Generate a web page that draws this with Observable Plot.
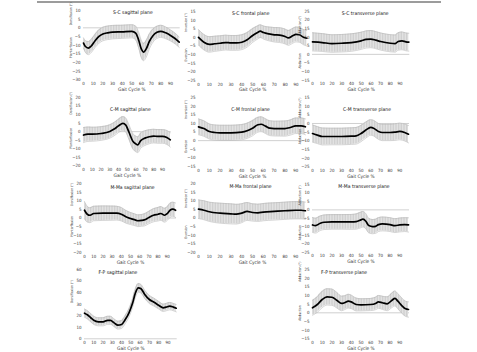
<!DOCTYPE html>
<html><head><meta charset="utf-8">
<script src="https://cdn.jsdelivr.net/npm/d3@7"></script>
<script src="https://cdn.jsdelivr.net/npm/@observablehq/plot@0.6"></script>
<style>
html,body{margin:0;padding:0;background:#fff;}
#fig{position:relative;width:477px;height:352px;overflow:hidden;font-family:"Liberation Sans Narrow","DejaVu Sans Condensed","Liberation Sans",Arial,sans-serif;}
#fig .panel{position:absolute;}
#topRule{position:absolute;left:37px;top:1px;width:404px;height:2px;background:#9c9c9c;}
</style></head><body>
<svg width="0" height="0" style="position:absolute">
  <defs>
    <pattern id="sdHatch" width="1.6" height="4" patternUnits="userSpaceOnUse">
      <rect width="1.6" height="4" fill="#e5e5e5"/>
      <rect width="0.6" height="4" fill="#c6c6c6"/>
    </pattern>
  </defs>
</svg>
<div id="fig"><div id="topRule"></div></div>
<script>
// Mean joint angle (deg) and standard deviation across the gait cycle (%)

// S-C sagittal
const scSagX    = [0, 2, 5, 8, 12, 16, 20, 25, 30, 40, 50, 54, 57, 60, 62, 65, 68, 72, 76, 80, 85, 90, 95, 99];
const scSagMean = [-8.8, -10.8, -11.7, -10.5, -7.5, -5, -3.6, -2.9, -2.5, -2.3, -2.0, -3.0, -7, -12.5, -14, -12, -8, -4.4, -2.6, -2.0, -2.9, -4.4, -6.3, -8.3];
const scSagSd   = [3.0, 3.4, 3.8, 3.8, 3.8, 3.9, 3.9, 3.9, 3.9, 3.8, 3.8, 4.0, 4.5, 5.0, 5.0, 4.8, 4.3, 3.8, 3.5, 3.5, 3.4, 3.2, 3.1, 3.0];

// S-C frontal
const scFrX    = [0, 5, 10, 15, 20, 25, 30, 35, 40, 45, 50, 55, 57, 60, 65, 70, 75, 80, 83, 87, 90, 93, 97, 100];
const scFrMean = [0, -2.8, -4.1, -3.7, -3.4, -3.0, -3.2, -3.2, -2.8, -1.4, 1.1, 3.0, 3.6, 2.8, 2.0, 1.5, 1.3, 0.5, -0.3, 0.9, 1.7, 1.5, 0.1, -0.5];
const scFrSd   = [4.5, 4.5, 4.5, 4.4, 4.3, 4.3, 4.3, 4.3, 4.3, 4.2, 4.0, 3.8, 3.7, 3.8, 4.0, 4.2, 4.3, 4.3, 4.3, 4.3, 4.3, 4.3, 4.4, 4.5];

// S-C transverse
const scTrX    = [0, 10, 20, 30, 40, 50, 55, 60, 65, 70, 80, 85, 88, 92, 96, 99];
const scTrMean = [7.3, 6.9, 6.3, 6.5, 6.9, 7.9, 8.7, 8.9, 8.3, 7.5, 6.5, 6.3, 7.5, 7.9, 7.3, 7.1];
const scTrSd   = [5.3, 5.2, 5.1, 5.1, 5.1, 5.0, 5.0, 5.0, 5.0, 5.0, 5.0, 5.0, 5.1, 5.2, 5.2, 5.2];

// C-M sagittal
const cmSagX    = [0, 5, 10, 20, 30, 35, 40, 45, 48, 52, 56, 60, 62, 65, 70, 75, 80, 85, 90, 95, 99];
const cmSagMean = [-2, -1.5, -1.5, -1.1, 0.1, 1.5, 3.4, 4.8, 4.0, -0.5, -5.4, -7.3, -7.7, -5.4, -3.8, -3.0, -2.6, -2.8, -2.8, -3.4, -4.8];
const cmSagSd   = [4.4, 4.2, 4.1, 4.0, 3.9, 3.9, 3.9, 4.0, 4.1, 4.3, 4.5, 4.6, 4.6, 4.5, 4.3, 4.1, 4.0, 4.0, 4.0, 4.1, 4.2];

// C-M frontal
const cmFrX    = [0, 5, 10, 15, 20, 30, 40, 45, 50, 55, 58, 62, 66, 70, 80, 85, 90, 95, 99];
const cmFrMean = [8, 7, 5.3, 4.7, 4.5, 4.5, 4.9, 5.7, 7.2, 9.2, 9.5, 8.4, 7.2, 7.0, 7.0, 7.6, 8.6, 8.6, 8.0];
const cmFrSd   = [4.6, 4.5, 4.4, 4.4, 4.4, 4.4, 4.4, 4.4, 4.4, 4.3, 4.3, 4.3, 4.3, 4.3, 4.4, 4.4, 4.5, 4.5, 4.6];

// C-M transverse
const cmTrX    = [0, 5, 10, 20, 30, 40, 45, 50, 55, 60, 63, 68, 72, 80, 85, 90, 95, 99];
const cmTrMean = [-5.8, -6.7, -7.5, -7.5, -7.5, -7.3, -7.1, -5.8, -3.8, -2.3, -2.7, -4.6, -5.2, -5.2, -5.0, -4.6, -5.2, -6.2];
const cmTrSd   = [5.0, 4.9, 4.9, 4.8, 4.8, 4.8, 4.8, 4.7, 4.6, 4.5, 4.5, 4.6, 4.7, 4.7, 4.8, 4.8, 4.9, 5.0];

// M-Ma sagittal
const mmSagX    = [0, 3, 6, 10, 20, 30, 35, 40, 45, 50, 55, 58, 62, 65, 70, 75, 80, 83, 87, 90, 93, 96, 99];
const mmSagMean = [4.5, 2.2, 1.6, 2.6, 2.8, 2.8, 2.8, 2.2, 0.7, -0.3, -1.1, -1.6, -1.4, -1.1, 0.3, 1.6, 2.2, 2.6, 1.6, 2.6, 4.5, 5.1, 4.5];
const mmSagSd   = [5.0, 4.6, 4.3, 4.2, 4.2, 4.1, 4.0, 3.9, 3.7, 3.5, 3.4, 3.4, 3.4, 3.5, 3.6, 3.8, 3.9, 4.0, 4.0, 4.0, 4.1, 4.1, 4.2];

// M-Ma frontal
const mmFrX    = [0, 5, 10, 20, 30, 35, 40, 45, 50, 55, 60, 70, 80, 90, 95, 99];
const mmFrMean = [5.1, 4.5, 3.6, 2.8, 2.4, 2.2, 2.8, 3.8, 3.2, 3.0, 3.4, 3.8, 4.2, 4.5, 4.5, 4.2];
const mmFrSd   = [5.4, 5.5, 5.6, 5.8, 5.8, 5.7, 5.5, 5.2, 5.0, 5.0, 5.0, 5.0, 5.0, 5.0, 5.0, 5.0];

// M-Ma transverse
const mmTrX    = [0, 3, 8, 12, 20, 30, 40, 45, 50, 52, 55, 58, 62, 65, 68, 72, 80, 85, 90, 95, 99];
const mmTrMean = [-8.9, -9.3, -7.9, -7.3, -7.1, -7.1, -7.1, -6.9, -5.9, -5.5, -6.7, -9.3, -9.9, -9.7, -8.7, -8.3, -8.7, -9.3, -8.9, -8.7, -8.9];
const mmTrSd   = [4.4, 4.4, 4.3, 4.3, 4.3, 4.3, 4.4, 4.5, 4.6, 4.6, 4.5, 4.3, 4.2, 4.2, 4.1, 4.1, 4.1, 4.1, 4.1, 4.1, 4.2];

// F-P sagittal
const fpSagX    = [0, 3, 7, 10, 15, 20, 25, 28, 32, 36, 40, 44, 48, 52, 55, 58, 61, 65, 70, 75, 80, 85, 88, 92, 96, 99];
const fpSagMean = [22.2, 20.8, 18, 16, 14.7, 14.7, 16, 16, 13.8, 11.8, 12.4, 16.7, 22.5, 31.2, 39.8, 44.1, 43.3, 38.4, 34, 31.7, 29.1, 26.8, 27.4, 28.3, 27.4, 26.5];
const fpSagSd   = [3.6, 3.6, 3.6, 3.6, 3.5, 3.5, 3.5, 3.5, 3.4, 3.4, 3.4, 3.5, 3.6, 3.7, 3.8, 3.8, 3.7, 3.6, 3.5, 3.4, 3.3, 3.2, 3.2, 3.2, 3.2, 3.2];

// F-P transverse
const fpTrX    = [0, 5, 10, 15, 20, 25, 30, 33, 37, 40, 45, 50, 60, 65, 68, 72, 77, 82, 85, 88, 92, 96, 99];
const fpTrMean = [2.9, 4.8, 7.7, 9.2, 9.0, 7.3, 5.4, 5.8, 6.7, 6.3, 4.8, 4.6, 4.8, 5.4, 6.3, 5.8, 5.2, 7.3, 8.3, 6.7, 4.2, 2.3, 1.9];
const fpTrSd   = [4.3, 4.5, 4.7, 4.7, 4.7, 4.5, 4.2, 4.0, 4.0, 3.9, 3.7, 3.5, 3.5, 3.6, 3.7, 3.8, 4.0, 4.2, 4.3, 4.4, 4.4, 4.4, 4.4];

// Axis tick labels
const gaitTicks = [0, 10, 20, 30, 40, 50, 60, 70, 80, 90];
const ticksM30to10 = [-30, -25, -20, -15, -10, -5, 0, 5, 10];
const ticksM25to15 = [-25, -20, -15, -10, -5, 0, 5, 10, 15];
const ticksM15to25 = [-15, -10, -5, 0, 5, 10, 15, 20, 25];
const ticksM20to20 = [-20, -15, -10, -5, 0, 5, 10, 15, 20];
const ticks0to60   = [0, 10, 20, 30, 40, 50, 60];

const sagLabels = ["Dorsiflexion (°)", "Plantarflexion"];
const frLabels  = ["Inversion (°)", "Eversion"];
const trLabels  = ["Adduction (°)", "Abduction"];

// Panel layout: page position of the plotting frame
const panels = [
  {title: "S-C sagittal plane",   x: scSagX, mean: scSagMean, sd: scSagSd, ticks: ticksM30to10, labels: sagLabels, labelAt: [1.5, -17.5],
   frame: {left: 83.3, right: 180, top: 10, bottom: 79.3}, titleDx: 1, titleDy: 0},
  {title: "S-C frontal plane",    x: scFrX, mean: scFrMean, sd: scFrSd, ticks: ticksM25to15, labels: frLabels, labelAt: [3.3, -14],
   frame: {left: 197.7, right: 306, top: 11, bottom: 80}, titleDx: -2, titleDy: 0},
  {title: "S-C transverse plane", x: scTrX, mean: scTrMean, sd: scTrSd, ticks: ticksM15to25, labels: trLabels, labelAt: [10.8, -8.3],
   frame: {left: 311.7, right: 409, top: 10.7, bottom: 79.3}, titleDx: 4, titleDy: 0},
  {title: "C-M sagittal plane",   x: cmSagX, mean: cmSagMean, sd: cmSagSd, ticks: ticksM20to20, labels: sagLabels, labelAt: [10, -10],
   frame: {left: 83.3, right: 171, top: 96.7, bottom: 165}, titleDx: 3, titleDy: 10},
  {title: "C-M frontal plane",    x: cmFrX, mean: cmFrMean, sd: cmFrSd, ticks: ticksM15to25, labels: frLabels, labelAt: [12.6, -7.1],
   frame: {left: 198, right: 306, top: 96.7, bottom: 165.7}, titleDx: -2, titleDy: 10},
  {title: "C-M transverse plane", x: cmTrX, mean: cmTrMean, sd: cmTrSd, ticks: ticksM25to15, labels: trLabels, labelAt: [3.3, -12],
   frame: {left: 312, right: 409, top: 96.7, bottom: 166}, titleDx: 6, titleDy: 9.5},
  {title: "M-Ma sagittal plane",  x: mmSagX, mean: mmSagMean, sd: mmSagSd, ticks: ticksM20to20, labels: sagLabels, labelAt: [7, -11],
   frame: {left: 84, right: 176, top: 182.7, bottom: 251.7}, titleDx: 2, titleDy: 1.5},
  {title: "M-Ma frontal plane",   x: mmFrX, mean: mmFrMean, sd: mmFrSd, ticks: ticksM20to20, labels: frLabels, labelAt: [5.9, -12],
   frame: {left: 198, right: 306, top: 182.7, bottom: 251.7}, titleDx: -2, titleDy: 0.5},
  {title: "M-Ma transverse plane", x: mmTrX, mean: mmTrMean, sd: mmTrSd, ticks: ticksM25to15, labels: trLabels, labelAt: [2.6, -18],
   frame: {left: 312, right: 409, top: 184, bottom: 251.7}, titleDx: 3, titleDy: 0},
  {title: "F-P sagittal plane",   x: fpSagX, mean: fpSagMean, sd: fpSagSd, ticks: ticks0to60, labels: ["Dorsiflexion (°)"], labelAt: [31],
   frame: {left: 84.3, right: 177, top: 268.7, bottom: 338}, titleDx: -13, titleDy: 0.5},
  {title: "F-P transverse plane", x: fpTrX, mean: fpTrMean, sd: fpTrSd, ticks: ticksM15to25, labels: trLabels, labelAt: [17.9, -4.6],
   frame: {left: 312, right: 409, top: 268.7, bottom: 338}, titleDx: -17, titleDy: 0.5}
];

const fig = document.getElementById("fig");
const mL = 26, mR = 3, mT = 3, mB = 15;
const curve = "monotone-x";
const font = "'Liberation Sans Narrow', 'DejaVu Sans Condensed', 'Liberation Sans', Arial, sans-serif";

for (const p of panels) {
  const rows = p.x.map((v, i) => ({pct: v, mean: p.mean[i], lo: p.mean[i] - p.sd[i], hi: p.mean[i] + p.sd[i]}));
  const f = p.frame;
  const width = f.right - f.left + mL + mR;
  const height = f.bottom - f.top + mT + mB;
  const yDomain = [p.ticks[0], p.ticks[p.ticks.length - 1]];
  const labelRows = p.labels.map((t, i) => ({t, y: p.labelAt[i]}));

  const chart = Plot.plot({
    width, height,
    marginLeft: mL, marginRight: mR, marginTop: mT, marginBottom: mB,
    style: {fontFamily: font, fontSize: "4.4px", color: "#333", background: "transparent", overflow: "visible"},
    x: {domain: [0, 100], ticks: gaitTicks, tickSize: 0, tickPadding: 2, label: null},
    y: {domain: yDomain, ticks: p.ticks, tickSize: 0, tickPadding: 3, label: null},
    marks: [
      Plot.ruleY([0], {stroke: "#c4c4c4", strokeWidth: 0.8}),
      Plot.areaY(rows, {x: "pct", y1: "lo", y2: "hi", fill: "url(#sdHatch)", curve}),
      Plot.line(rows, {x: "pct", y: "lo", stroke: "#b8b8b8", strokeWidth: 0.6, curve}),
      Plot.line(rows, {x: "pct", y: "hi", stroke: "#b8b8b8", strokeWidth: 0.6, curve}),
      Plot.line(rows, {x: "pct", y: "mean", stroke: "#000", strokeWidth: 1.7, curve}),
      Plot.text([p.title], {frameAnchor: "top", dx: p.titleDx, dy: p.titleDy, fontSize: 5, fill: "#111"}),
      Plot.text(labelRows, {y: "y", text: "t", frameAnchor: "left", dx: -13, rotate: -90, fontSize: 3.4, fill: "#333"}),
      Plot.text(["Gait Cycle %"], {frameAnchor: "bottom", dy: 11, fontSize: 4.8, fill: "#333"})
    ]
  });
  chart.classList.add("panel");
  chart.style.left = (f.left - mL) + "px";
  chart.style.top = (f.top - mT) + "px";
  fig.appendChild(chart);
}
</script>
</body></html>
